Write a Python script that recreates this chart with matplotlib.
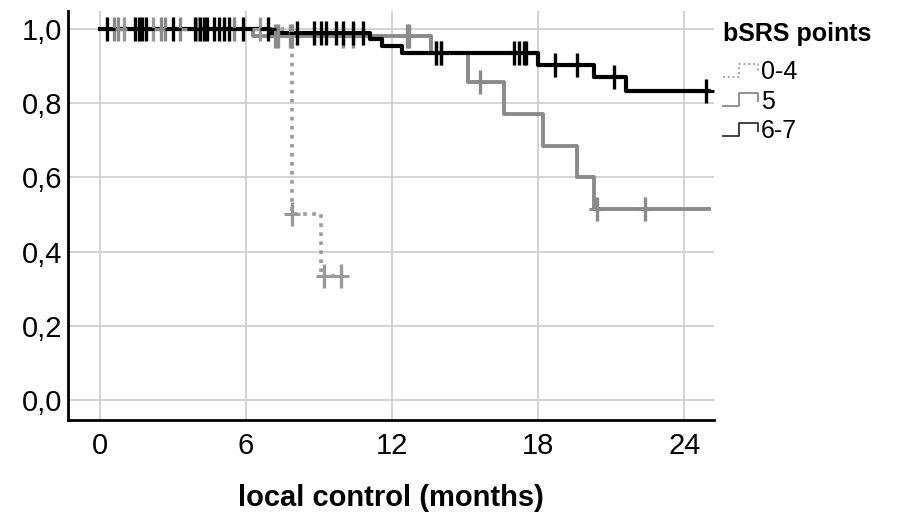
import matplotlib.pyplot as plt
from matplotlib.legend_handler import HandlerBase
from matplotlib.lines import Line2D
from matplotlib.ticker import FuncFormatter

plt.rcParams['font.family'] = ['Liberation Sans', 'DejaVu Sans']

# Kaplan-Meier steps (months, survival)
t_04 = [0, 7.9, 9.1, 10.0]
s_04 = [1.0, 0.5, 0.333, 0.333]
t_5 = [0, 6.3, 13.6, 15.1, 16.6, 18.2, 19.6, 20.3, 25.0]
s_5 = [1.0, 0.982, 0.935, 0.857, 0.77, 0.685, 0.60, 0.516, 0.516]
t_67 = [0, 7.0, 11.1, 11.6, 12.4, 18.0, 20.3, 21.6, 25.0]
s_67 = [1.0, 0.99, 0.973, 0.954, 0.935, 0.904, 0.872, 0.833, 0.833]

# censored cases (time, survival at that time)
cens_04_t = [1.0, 2.2, 4.0, 6.6, 7.9, 9.2, 9.9]
cens_04_s = [1.0, 1.0, 1.0, 1.0, 0.5, 0.333, 0.333]
cens_5_t = [0.6, 0.75, 2.5, 2.7, 3.3, 5.5, 7.2, 7.3, 7.8, 7.9, 10.0, 10.4, 12.6, 12.7, 13.8, 14.0, 15.6, 20.4, 22.4]
cens_5_s = [1.0, 1.0, 1.0, 1.0, 1.0, 1.0, 0.982, 0.982, 0.982, 0.982, 0.982, 0.982, 0.982, 0.982,
            0.935, 0.935, 0.857, 0.516, 0.516]
cens_67_t = [0.3, 1.45, 1.6, 1.75, 1.9, 3.0, 3.9, 4.1, 4.3, 4.4, 4.7, 4.9, 5.1, 5.3, 5.9, 6.9,
             8.1, 8.8, 9.1, 9.3, 9.7, 10.0, 10.4, 10.8, 13.8, 14.0, 17.0, 17.2, 17.4, 17.5,
             18.7, 19.6, 21.1, 24.9]
cens_67_s = [1.0] * 16 + [0.99] * 8 + [0.935] * 6 + [0.904, 0.904, 0.872, 0.833]

groups = ['0-4', '5', '6-7']
x_ticks = [0, 6, 12, 18, 24]
y_ticks = [0.0, 0.2, 0.4, 0.6, 0.8, 1.0]

c_light = '#9a9a9a'
c_gray = '#8a8a8a'
c_black = '#000000'


class StepHandler(HandlerBase):
    # SPSS style little step glyph for the legend
    def __init__(self, color, ls):
        super().__init__()
        self.color = color
        self.ls = ls

    def create_artists(self, legend, orig_handle, xd, yd, w, h, fontsize, trans):
        xs = [xd, xd + 0.45 * w, xd + 0.45 * w, xd + w, xd + w]
        ys = [yd + 0.15 * h, yd + 0.15 * h, yd + 0.9 * h, yd + 0.9 * h, yd + 0.45 * h]
        ln = Line2D(xs, ys, color=self.color, lw=1.3, linestyle=self.ls, transform=trans)
        return [ln]


def censor(t, s, color):
    # tall "+" like the SPSS censor marks
    ax.plot(t, s, '|', color=color, ms=17, mew=2.4)
    ax.plot(t, s, '_', color=color, ms=12, mew=2.2)


fig = plt.figure(figsize=(9.03, 5.17), dpi=100)
ax = fig.add_axes([0.0753, 0.188, 0.715, 0.79])

ax.step(t_04, s_04, where='post', color=c_light, lw=2.6, linestyle=(0, (1, 1.5)))
ax.step(t_5, s_5, where='post', color=c_gray, lw=2.8)
ax.step(t_67, s_67, where='post', color=c_black, lw=3.0)

censor(cens_04_t, cens_04_s, c_light)
censor(cens_5_t, cens_5_s, c_gray)
censor(cens_67_t, cens_67_s, c_black)

ax.set_xlim(-1.3, 25.2)
ax.set_ylim(-0.054, 1.048)
ax.set_xticks(x_ticks)
ax.set_yticks(y_ticks)
ax.yaxis.set_major_formatter(FuncFormatter(lambda v, p: f'{v:.1f}'.replace('.', ',')))
ax.tick_params(length=0, labelsize=21)
ax.tick_params(axis='y', pad=4)
ax.tick_params(axis='x', pad=9)
ax.grid(True, color='#cccccc', lw=1.2)
ax.set_axisbelow(True)
for s in ['top', 'right']:
    ax.spines[s].set_visible(False)
for s in ['left', 'bottom']:
    ax.spines[s].set_linewidth(2)
ax.set_xlabel('local control (months)', fontsize=21, fontweight='bold', labelpad=17)

h = [Line2D([], []) for g in groups]
leg = fig.legend(h, groups, title='bSRS points', loc='upper left', bbox_to_anchor=(0.776, 1.0),
                 frameon=False, fontsize=18, labelspacing=0.22, handlelength=1.4, handletextpad=0.1,
                 alignment='left',
                 title_fontproperties={'weight': 'bold', 'size': 18},
                 handler_map={h[0]: StepHandler(c_light, ':'), h[1]: StepHandler(c_gray, '-'),
                              h[2]: StepHandler('#333333', '-')})
leg._legend_box.sep = 10

fig.savefig('out.png', dpi=100)
